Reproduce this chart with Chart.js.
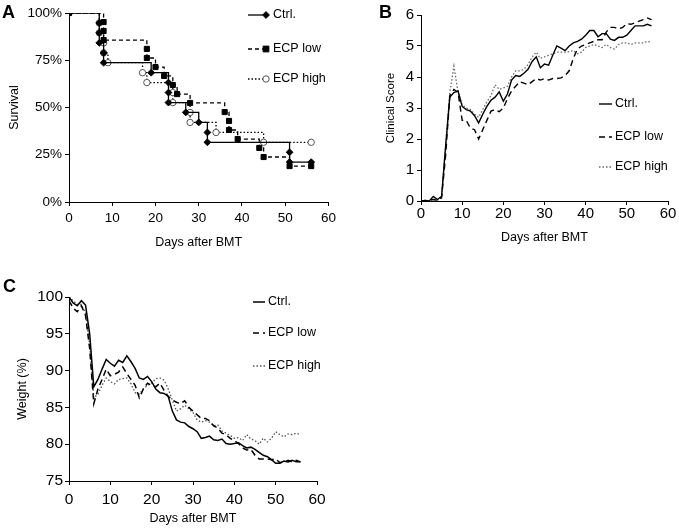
<!DOCTYPE html>
<html>
<head>
<meta charset="utf-8">
<script src="https://cdn.jsdelivr.net/npm/chart.js@4.4.0/dist/chart.umd.min.js"></script>
<style>
    body { margin: 0; background: #fff; width: 679px; height: 530px; position: relative; overflow: hidden; }
    canvas { position: absolute; }
    #survivalChart { left: 0; top: 0; }
    #scoreChart { left: 340px; top: 0; }
    #weightChart { left: 0; top: 270px; }
</style>
</head>
<body>
<canvas id="survivalChart" width="340" height="250" style="width:340px;height:250px"></canvas>
<canvas id="scoreChart" width="339" height="250" style="width:339px;height:250px"></canvas>
<canvas id="weightChart" width="340" height="260" style="width:340px;height:260px"></canvas>
<script>
// Datos
const seriesNames = ['Ctrl.', 'ECP low', 'ECP high'];

// A - supervivencia (días de evento y % supervivencia)
const ctrlSurvDays = [0, 7, 7, 7, 8, 8, 19, 23, 23, 23, 27, 30, 32, 32, 51, 51, 56];
const ctrlSurv = [100, 94.7, 89.5, 84.2, 78.9, 73.7, 68.4, 63.2, 57.9, 52.6, 47.4, 42.1, 36.8, 31.6, 26.3, 21.1, 21.1];
const lowSurvDays = [0, 8, 8, 8, 18, 18, 20, 22, 24, 25, 28, 36, 37, 37, 39, 44, 45, 51, 56];
const lowSurv = [100, 95.2, 90.5, 85.7, 81.0, 76.2, 71.4, 66.7, 61.9, 57.1, 52.4, 47.6, 42.9, 38.1, 33.3, 28.6, 23.8, 19.0, 19.0];
const highSurvDays = [0, 7, 7, 8, 8, 9, 17, 18, 24, 24, 28, 28, 34, 45, 56];
const highSurv = [100, 94.7, 89.5, 84.2, 78.9, 73.7, 68.4, 63.2, 57.9, 52.6, 47.4, 42.1, 36.8, 31.6, 31.6];

// B y C - días
const days = [0, 1, 2, 3, 4, 5, 6, 7, 8, 9, 10, 11, 12, 13, 14, 15, 16, 17, 18, 19,
    20, 21, 22, 23, 24, 25, 26, 27, 28, 29, 30, 31, 32, 33, 34, 35, 36, 37, 38, 39,
    40, 41, 42, 43, 44, 45, 46, 47, 48, 49, 50, 51, 52, 53, 54, 55, 56];

// B - puntuación clínica
const ctrlScore = [0, 0.02, 0, 0.15, 0.05, 0.15, 1.8, 3.35, 3.5, 3.55, 3.05, 2.95, 2.9, 2.75, 2.52, 2.8, 3.05, 3.25, 3.35, 3.52,
    3.22, 3.45, 3.9, 4.05, 4.02, 4.12, 4.25, 4.5, 4.65, 4.3, 4.42, 4.38, 4.7, 5.0, 4.93, 4.85, 5.0, 5.1, 5.15, 5.22,
    5.35, 5.5, 5.5, 5.3, 5.4, 5.4, 5.22, 5.18, 5.28, 5.28, 5.35, 5.5, 5.65, 5.65, 5.65, 5.7, 5.65];
const lowScore = [0, 0, 0.02, 0.05, 0.02, 0.1, 1.5, 3.4, 3.6, 3.5, 2.6, 2.6, 2.35, 2.3, 2.0, 2.3, 2.6, 2.9, 2.95, 2.88,
    3.0, 3.3, 3.55, 3.7, 3.85, 3.8, 3.75, 3.85, 3.95, 3.9, 3.95, 3.9, 3.95, 3.95, 3.97, 4.05, 4.2, 4.6, 4.9, 5.0,
    5.05, 5.1, 5.15, 5.2, 5.2, 5.45, 5.6, 5.6, 5.55, 5.6, 5.72, 5.7, 5.75, 5.8, 5.85, 5.9, 5.85];
const highScore = [0, 0.02, 0, 0.08, 0.02, 0.12, 1.8, 3.5, 4.35, 3.5, 3.1, 3.0, 2.95, 2.8, 2.7, 2.95, 3.2, 3.4, 3.75, 3.6,
    3.65, 3.7, 4.0, 4.2, 4.2, 4.25, 4.4, 4.65, 4.8, 4.6, 4.65, 4.7, 4.75, 4.8, 4.8, 4.8, 4.82, 4.85, 4.75, 4.8,
    4.95, 5.0, 5.05, 5.0, 4.95, 5.05, 4.95, 4.9, 5.05, 5.1, 5.1, 5.05, 5.1, 5.1, 5.1, 5.15, 5.12];

// C - peso (%)
const ctrlWeight = [100, 99.2, 98.8, 99.5, 98.9, 95, 87.8, 88.8, 90.2, 91.5, 91.0, 90.6, 91.4, 91.1, 92.0, 91.2, 90.3, 89.0, 88.8, 89.2,
    88.5, 87.5, 87.0, 86.9, 86.5, 84.5, 83.3, 83.0, 82.9, 82.4, 82.1, 81.7, 80.8, 80.9, 81.1, 80.6, 80.5, 80.7, 80.1, 80.0,
    80.1, 80.2, 79.8, 79.5, 79.6, 79.3, 78.9, 78.5, 78.3, 77.9, 77.4, 77.4, 77.7, 77.6, 77.8, 77.6, 77.6];
const lowWeight = [99.5, 98.5, 98.0, 98.8, 97.5, 93, 85.5, 87.5, 88.8, 90.2, 89.3, 89.5, 89.8, 90.5, 89.6, 88.8, 88.0, 86.3, 87.5, 88.3,
    88.0, 87.8, 88.3, 87.3, 86.5, 86.0, 85.7, 85.5, 85.9, 85.0, 84.5, 84.0, 83.5, 83.5, 83.2, 82.5, 82.2, 81.5, 81.3, 80.8,
    80.5, 80.1, 79.5, 79.2, 79.3, 78.5, 78.0, 78.0, 78.0, 77.9, 78.0, 77.5, 77.6, 77.8, 77.6, 77.8, 77.6];
const highWeight = [100, 99.5, 99.0, 99.0, 97.8, 93.5, 86.3, 86.8, 88.0, 89.0, 88.5, 88.2, 88.8, 88.9, 89.0, 88.2, 87.0, 86.8, 87.5, 88.0,
    88.3, 88.9, 89.0, 88.7, 87.5, 86.0, 84.5, 84.8, 85.3, 84.8, 84.3, 83.3, 83.0, 83.2, 83.0, 82.5, 82.6, 81.8, 81.5, 81.2,
    80.8, 80.9, 80.5, 81.3, 80.7, 80.5, 80.0, 80.8, 80.3, 80.8, 81.7, 81.3, 81.0, 81.4, 81.3, 81.5, 81.3];

const FONT = '"Liberation Sans", Arial, sans-serif';

function toPoints(xs, ys) {
    return xs.map((x, i) => ({ x: x, y: ys[i] }));
}

// Marcadores de la leyenda
function drawMarker(ctx, style, x, y, r, fill, stroke) {
    ctx.beginPath();
    if (style === 'rectRot') {
        ctx.moveTo(x, y - r); ctx.lineTo(x + r, y); ctx.lineTo(x, y + r); ctx.lineTo(x - r, y); ctx.closePath();
    } else if (style === 'rect') {
        ctx.rect(x - r * 0.8, y - r * 0.8, r * 1.6, r * 1.6);
    } else {
        ctx.arc(x, y, r, 0, Math.PI * 2);
    }
    ctx.fillStyle = fill;
    ctx.fill();
    ctx.lineWidth = 1;
    ctx.strokeStyle = stroke;
    ctx.stroke();
}

// Letra del panel + leyenda propia
const panelDecor = {
    id: 'panelDecor',
    afterDraw(chart, args, opts) {
        const ctx = chart.ctx;
        ctx.save();
        ctx.fillStyle = '#000';
        ctx.font = 'bold 18px ' + FONT;
        ctx.textBaseline = 'alphabetic';
        ctx.fillText(opts.letter, opts.letterX, opts.letterY);

        ctx.font = opts.legendFont + ' ' + FONT;
        ctx.textBaseline = 'middle';
        chart.data.datasets.forEach((ds, i) => {
            const y = opts.legendY[i];
            ctx.strokeStyle = ds.borderColor;
            ctx.lineWidth = ds.borderWidth;
            ctx.setLineDash(ds.borderDash || []);
            ctx.beginPath();
            ctx.moveTo(opts.lineX0, y);
            ctx.lineTo(opts.lineX1, y);
            ctx.stroke();
            ctx.setLineDash([]);
            if (opts.markerX) {
                drawMarker(ctx, ds.pointStyle, opts.markerX, y, ds.pointRadius, ds.pointBackgroundColor, ds.pointBorderColor);
            }
            ctx.fillStyle = '#000';
            ctx.fillText(ds.label, opts.textX, y);
        });
        ctx.restore();
    }
};

function axis(min, max, step, tickFont, tickPad, title, titleFont, titlePad, size, cb) {
    return {
        type: 'linear',
        min: min,
        max: max,
        ticks: {
            stepSize: step,
            color: '#000',
            padding: tickPad,
            font: { family: FONT, size: tickFont },
            callback: cb || (v => v)
        },
        grid: { drawOnChartArea: false, drawTicks: true, tickLength: 4, color: '#000', lineWidth: 1 },
        border: { display: true, color: '#000', width: 1 },
        title: { display: true, text: title, color: '#000', font: { family: FONT, size: titleFont }, padding: titlePad },
        afterFit: function(scale) {
            if (scale.isHorizontal()) scale.height = size; else scale.width = size;
        }
    };
}

const commonOptions = {
    responsive: false,
    animation: false,
    events: [],
    plugins: { legend: { display: false }, tooltip: { enabled: false } }
};

// A - Supervivencia
new Chart(document.getElementById('survivalChart'), {
    type: 'scatter',
    data: {
        datasets: [{
            label: seriesNames[0],
            data: toPoints(ctrlSurvDays, ctrlSurv),
            showLine: true, stepped: true,
            borderColor: '#000', borderWidth: 1.3,
            pointStyle: 'rectRot', pointRadius: 3.4,
            pointBackgroundColor: '#000', pointBorderColor: '#000', pointBorderWidth: 1
        }, {
            label: seriesNames[1],
            data: toPoints(lowSurvDays, lowSurv),
            showLine: true, stepped: true,
            borderColor: '#000', borderWidth: 1.3, borderDash: [4, 3],
            pointStyle: 'rect', pointRadius: 3.6,
            pointBackgroundColor: '#000', pointBorderColor: '#000', pointBorderWidth: 1
        }, {
            label: seriesNames[2],
            data: toPoints(highSurvDays, highSurv),
            showLine: true, stepped: true,
            borderColor: '#000', borderWidth: 1.3, borderDash: [1.5, 2],
            pointStyle: 'circle', pointRadius: 3.2,
            pointBackgroundColor: '#fff', pointBorderColor: '#555', pointBorderWidth: 1
        }]
    },
    options: Object.assign({}, commonOptions, {
        layout: { padding: { left: 0, top: 13, right: 10, bottom: 0 } },
        elements: { point: { radius: ctx => ctx.dataIndex === 0 ? 0 : ctx.dataset.pointRadius } },
        scales: {
            x: axis(0, 60, 10, 13.5, 4, 'Days after BMT', 12.5, { top: 0, bottom: 0 }, 48),
            y: axis(0, 100, 25, 13.5, 3, 'Survival', 12.5, { top: 7.5, bottom: 0 }, 69, v => v + '%')
        },
        plugins: Object.assign({}, commonOptions.plugins, {
            panelDecor: {
                letter: 'A', letterX: 2, letterY: 18,
                legendFont: '12.5px', legendY: [15, 49, 79],
                lineX0: 248, lineX1: 264, markerX: 266, textX: 273
            }
        })
    }),
    plugins: [panelDecor]
});

// B - Puntuación clínica
new Chart(document.getElementById('scoreChart'), {
    type: 'line',
    data: {
        datasets: [{
            label: seriesNames[0],
            data: toPoints(days, ctrlScore),
            borderColor: '#000', borderWidth: 1.4, pointRadius: 0, tension: 0
        }, {
            label: seriesNames[1],
            data: toPoints(days, lowScore),
            borderColor: '#000', borderWidth: 1.4, borderDash: [6, 4], pointRadius: 0, tension: 0
        }, {
            label: seriesNames[2],
            data: toPoints(days, highScore),
            borderColor: '#666', borderWidth: 1.3, borderDash: [1.5, 2], pointRadius: 0, tension: 0
        }]
    },
    options: Object.assign({}, commonOptions, {
        layout: { padding: { left: 0, top: 15, right: 11, bottom: 0 } },
        scales: {
            x: axis(0, 60, 10, 15, 0, 'Days after BMT', 12.5, { top: 0, bottom: 4.5 }, 49),
            y: axis(0, 6, 1, 15, 3, 'Clinical Score', 11.5, { top: 44, bottom: 0 }, 81)
        },
        plugins: Object.assign({}, commonOptions.plugins, {
            panelDecor: {
                letter: 'B', letterX: 39, letterY: 18,
                legendFont: '12.5px', legendY: [104, 137, 167],
                lineX0: 259, lineX1: 272, textX: 275
            }
        })
    }),
    plugins: [panelDecor]
});

// C - Peso
new Chart(document.getElementById('weightChart'), {
    type: 'line',
    data: {
        datasets: [{
            label: seriesNames[0],
            data: toPoints(days, ctrlWeight),
            borderColor: '#000', borderWidth: 1.5, pointRadius: 0, tension: 0
        }, {
            label: seriesNames[1],
            data: toPoints(days, lowWeight),
            borderColor: '#000', borderWidth: 1.5, borderDash: [6, 4], pointRadius: 0, tension: 0
        }, {
            label: seriesNames[2],
            data: toPoints(days, highWeight),
            borderColor: '#555', borderWidth: 1.3, borderDash: [1.5, 2], pointRadius: 0, tension: 0
        }]
    },
    options: Object.assign({}, commonOptions, {
        layout: { padding: { left: 0, top: 27, right: 23, bottom: 0 } },
        scales: {
            x: axis(0, 60, 10, 15.5, 5, 'Days after BMT', 12.5, { top: 0, bottom: 3.5 }, 49),
            y: axis(75, 100, 5, 15.5, 2, 'Weight (%)', 12.5, { top: 15, bottom: 0 }, 69)
        },
        plugins: Object.assign({}, commonOptions.plugins, {
            panelDecor: {
                letter: 'C', letterX: 3, letterY: 22,
                legendFont: '12.5px', legendY: [32, 63, 96],
                lineX0: 253, lineX1: 265, textX: 268
            }
        })
    }),
    plugins: [panelDecor]
});
</script>
</body>
</html>
